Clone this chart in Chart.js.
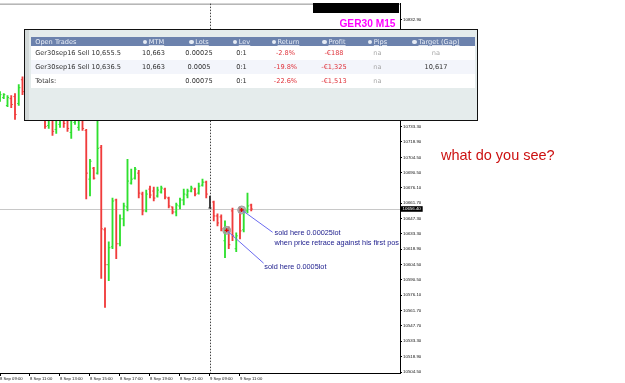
<!DOCTYPE html>
<html>
<head>
<meta charset="utf-8">
<script src="https://cdn.jsdelivr.net/npm/chart.js@4.4.1/dist/chart.umd.min.js"></script>
<style>
  body { margin: 0; background: #fff; overflow: hidden; }
  #wrap { position: relative; width: 625px; height: 383px; }
  #chart { position: absolute; left: 0; top: 0; }
  #blackbox { position: absolute; left: 312.7px; top: 2.7px; width: 86.3px; height: 10px; background: #000; }
  #symbol { position: absolute; right: 229.5px; top: 19.4px; font: bold 10.2px/10.2px "Liberation Sans", Arial, sans-serif; color: #ff00ff; }
  #question { position: absolute; left: 441px; top: 148.3px; font: 14.5px/14.5px "Liberation Sans", Arial, sans-serif; color: #cc1111; white-space: nowrap; }
  #panel { position: absolute; left: 23.5px; top: 29px; width: 452px; height: 90px; border: 1.5px solid #111; background: #e5ecec; }
  #strip { position: absolute; left: 0; top: 0; width: 4px; height: 90px; background: #d3d9d9; }
  #trades { position: absolute; left: 6.7px; top: 7.2px; border-collapse: collapse; table-layout: fixed; width: 444.3px;
            font: 6.6px "DejaVu Sans", Verdana, sans-serif; color: #333; }
  #trades td { padding: 0; height: 14px; text-align: center; white-space: nowrap; overflow: hidden; background: #fff; }
  #trades tr.alt td { background: #f3f5fb; }
  #trades tr.head td { height: 9px; background: #6c82ad; color: #e9eef7; }
  #trades td.name { text-align: left; padding-left: 4px; }
  #trades u { text-decoration-color: rgba(255,255,255,.7); }
  #trades i { display: inline-block; width: 4.5px; height: 4.5px; border-radius: 50%; background: #e6ebf4; margin-right: 1.5px; vertical-align: -0.5px; }
  .neg { color: #e0343c; }
  .na { color: #a8a8a8; }
</style>
</head>
<body>
<div id="wrap">
  <canvas id="chart" width="625" height="383"></canvas>
  <div id="blackbox"></div>
  <div id="symbol">GER30 M15</div>
  <div id="question">what do you see?</div>
  <div id="panel">
    <div id="strip"></div>
    <table id="trades">
      <colgroup>
        <col style="width:99.3px"><col style="width:46px"><col style="width:45px"><col style="width:40px">
        <col style="width:48px"><col style="width:49px"><col style="width:38px"><col style="width:79px">
      </colgroup>
      <tbody id="rows"></tbody>
    </table>
  </div>
</div>
<script>
//GER30 M15 bars, 8 Sep 09:00 onwards (one entry per 15 min bar)
var opens = [10758.3, 10760.2, 10752.8, 10759.2, 10761.1, 10754.6, 10776.8, 10763.9, 10772.2, 10755.5,
             10767.6, 10754.6, 10747.2, 10734.2, 10750.9, 10730.5, 10735.2, 10753.7, 10750.9, 10727.7,
             10737.0, 10732.4, 10749.0, 10729.6, 10684.2, 10694.4, 10689.8, 10713.8, 10637.0, 10604.5,
             10621.2, 10664.8, 10624.0, 10647.2, 10658.3, 10680.5, 10685.1, 10689.8, 10670.3, 10654.6,
             10674.9, 10673.1, 10668.5, 10672.2, 10674.9, 10666.6, 10658.3, 10653.6, 10659.2, 10664.8,
             10669.4, 10673.1, 10674.9, 10671.2, 10678.6, 10681.4, 10657.3, 10662.9, 10649.9, 10649.0,
             10626.8, 10637.9, 10654.6, 10619.4, 10656.4, 10637.0, 10654.6, 10660.1];
var highs = [10765.7, 10763.9, 10762.0, 10762.0, 10763.9, 10772.2, 10779.6, 10776.8, 10775.0, 10770.4,
             10769.4, 10756.5, 10749.0, 10751.8, 10752.8, 10756.5, 10758.3, 10756.5, 10752.8, 10761.1,
             10758.3, 10756.5, 10751.8, 10730.5, 10702.7, 10695.3, 10739.8, 10715.7, 10638.8, 10625.8,
             10666.6, 10665.7, 10650.9, 10662.0, 10702.7, 10693.5, 10695.3, 10692.5, 10672.2, 10674.0,
             10677.7, 10676.8, 10676.8, 10677.7, 10675.9, 10667.5, 10658.3, 10662.0, 10666.6, 10674.9,
             10674.9, 10677.7, 10675.9, 10680.5, 10684.2, 10682.4, 10668.5, 10663.8, 10651.8, 10650.9,
             10645.3, 10639.7, 10657.3, 10634.2, 10658.3, 10656.4, 10671.2, 10661.0];
var lows = [10756.5, 10759.2, 10751.8, 10750.9, 10739.8, 10752.8, 10762.9, 10761.1, 10756.5, 10751.8,
            10747.2, 10739.8, 10731.4, 10731.4, 10725.0, 10726.8, 10732.4, 10732.4, 10728.7, 10722.2,
            10735.2, 10729.6, 10729.6, 10665.7, 10668.5, 10684.2, 10688.8, 10591.6, 10564.7, 10589.7,
            10619.4, 10610.1, 10622.1, 10640.7, 10654.6, 10679.6, 10684.2, 10666.6, 10650.9, 10653.6,
            10666.6, 10663.8, 10667.5, 10671.2, 10665.7, 10657.3, 10651.8, 10649.9, 10656.4, 10660.1,
            10666.6, 10672.2, 10668.5, 10670.3, 10677.7, 10666.6, 10657.3, 10645.3, 10640.7, 10636.0,
            10611.0, 10619.4, 10626.8, 10616.6, 10628.6, 10635.1, 10652.7, 10654.6];
var closes = [10762.9, 10762.9, 10760.2, 10753.7, 10744.4, 10769.4, 10765.7, 10773.1, 10760.2, 10767.6,
              10750.9, 10745.3, 10733.3, 10747.2, 10728.7, 10753.7, 10755.5, 10736.1, 10731.4, 10754.6,
              10752.8, 10751.8, 10731.4, 10689.8, 10700.9, 10685.1, 10712.9, 10637.9, 10604.5, 10620.3,
              10663.8, 10624.0, 10647.2, 10659.2, 10682.4, 10684.2, 10693.5, 10671.2, 10654.6, 10670.3,
              10669.4, 10666.6, 10674.0, 10675.9, 10667.5, 10659.2, 10653.6, 10660.1, 10664.8, 10670.3,
              10673.1, 10675.9, 10670.3, 10677.7, 10681.4, 10670.3, 10657.3, 10649.9, 10643.4, 10637.9,
              10639.7, 10623.1, 10631.4, 10631.4, 10636.0, 10653.6, 10659.2, 10656.4];

//axis ticks
var timeIdx = [0, 8, 16, 24, 32, 40, 48, 56, 64];
var timeLabels = ['8 Sep 09:00', '8 Sep 11:00', '8 Sep 13:00', '8 Sep 15:00', '8 Sep 17:00',
                  '8 Sep 19:00', '8 Sep 21:00', '9 Sep 09:00', '9 Sep 11:00'];
var priceTicks = [10832.9, 10733.3, 10718.9, 10704.5, 10690.5, 10676.1, 10661.7, 10647.3, 10633.3,
                  10618.9, 10604.5, 10590.5, 10576.1, 10561.7, 10547.7, 10533.3, 10518.9, 10504.5];
var bidPrice = 10656.4;
var separatorIdx = 56;

//open trades
var tradeName = ['Ger30sep16 Sell 10,655.5', 'Ger30sep16 Sell 10,636.5'];
var tradeMtm = ['10,663', '10,663'];
var tradeLots = ['0.00025', '0.0005'];
var tradeLev = ['0:1', '0:1'];
var tradeReturn = ['-2.8%', '-19.8%'];
var tradeProfit = ['-€188', '-€1,325'];
var tradePips = ['na', 'na'];
var tradeTarget = ['na', '10,617'];
var totals = ['Totals:', '', '0.00075', '0:1', '-22.6%', '-€1,513', 'na', ''];
var headers = ['Open Trades', 'MTM', 'Lots', 'Lev', 'Return', 'Profit', 'Pips', 'Target (Gap)'];

//trade marks on the chart and their notes
var tradePrice = [10655.5, 10636.5];
var tradeIdx = [64.45, 60.45];
var lineEndIdx = [72.7, 70.3];
var lineEndPrice = [10634.7, 10605.9];
var noteIdx = [73.2, 70.5];
var notePrice = [10633.7, 10602.7];
var noteText = [['sold here 0.00025lot', 'when price retrace against his first pos'], ['sold here 0.0005lot']];

//table
var rows = document.getElementById('rows');
var html = '<tr class="head"><td class="name">' + headers[0] + '</td>';
for (var h = 1; h < headers.length; h++) html += '<td><i></i><u>' + headers[h] + '</u></td>';
html += '</tr>';
for (var t = 0; t < tradeName.length; t++) {
    html += '<tr' + (t % 2 ? ' class="alt"' : '') + '><td class="name">' + tradeName[t] + '</td><td>' + tradeMtm[t] +
        '</td><td>' + tradeLots[t] + '</td><td>' + tradeLev[t] + '</td><td class="neg">' + tradeReturn[t] +
        '</td><td class="neg">' + tradeProfit[t] + '</td><td class="na">' + tradePips[t] + '</td><td' +
        (tradeTarget[t] == 'na' ? ' class="na"' : '') + '>' + tradeTarget[t] + '</td></tr>';
}
html += '<tr><td class="name">' + totals[0] + '</td><td>' + totals[1] + '</td><td>' + totals[2] + '</td><td>' + totals[3] +
    '</td><td class="neg">' + totals[4] + '</td><td class="neg">' + totals[5] + '</td><td class="na">' + totals[6] +
    '</td><td>' + totals[7] + '</td></tr>';
rows.innerHTML = html;

//chart
var up = '#2fe02f', down = '#f03c3c', flat = '#333333';
var barColors = closes.map(function (c, i) { return c > opens[i] ? up : (c < opens[i] ? down : flat); });
var ranges = closes.map(function (c, i) { return { x: i, y: [lows[i], highs[i]] }; });
var openPts = opens.map(function (o, i) { return { x: i, y: o }; });
var closePts = closes.map(function (c, i) { return { x: i, y: c }; });
var tradePts = tradePrice.map(function (p, i) { return { x: tradeIdx[i], y: p }; });

var overlay = {
    id: 'overlay',
    beforeDatasetsDraw: function (chart) {
        var ctx = chart.ctx, a = chart.chartArea, x = chart.scales.x, y = chart.scales.y;
        ctx.save();
        ctx.lineWidth = 1;
        ctx.strokeStyle = '#8c8c8c';
        ctx.beginPath(); ctx.moveTo(a.left, a.top + 0.5); ctx.lineTo(a.right, a.top + 0.5); ctx.stroke();
        var by = Math.round(y.getPixelForValue(bidPrice)) + 0.5;
        ctx.strokeStyle = '#c8c8c8';
        ctx.beginPath(); ctx.moveTo(a.left, by); ctx.lineTo(a.right, by); ctx.stroke();
        var sx = Math.round(x.getPixelForValue(separatorIdx)) + 0.5;
        ctx.strokeStyle = '#444';
        ctx.setLineDash([1.5, 1.5]);
        ctx.beginPath(); ctx.moveTo(sx, a.top); ctx.lineTo(sx, a.bottom); ctx.stroke();
        ctx.restore();
    },
    afterDraw: function (chart) {
        var ctx = chart.ctx, a = chart.chartArea, x = chart.scales.x, y = chart.scales.y;
        ctx.save();
        ctx.font = '7.3px "Liberation Sans", Arial, sans-serif';
        ctx.fillStyle = '#20208e';
        ctx.textBaseline = 'middle';
        noteText.forEach(function (lines, k) {
            var px = x.getPixelForValue(noteIdx[k]), py = y.getPixelForValue(notePrice[k]);
            lines.forEach(function (s, j) { ctx.fillText(s, px, py + j * 9.2); });
        });
        //bid tag on the price scale
        var by = y.getPixelForValue(bidPrice);
        ctx.fillStyle = '#000';
        ctx.fillRect(a.right + 0.7, by - 2.8, 22, 5.6);
        ctx.fillStyle = '#fff';
        ctx.font = '4.4px "Liberation Sans", Arial, sans-serif';
        ctx.fillText(bidPrice.toFixed(2), a.right + 2.5, by + 0.2);
        ctx.restore();
    }
};

Chart.defaults.font.family = '"Liberation Sans", Arial, sans-serif';

var datasets = [
    {
        type: 'bar', data: ranges, backgroundColor: barColors, borderWidth: 0,
        barThickness: 1.2, order: 6
    },
    {
        type: 'scatter', data: openPts, pointStyle: 'dash', pointRotation: 180, pointRadius: 1.6,
        pointBorderColor: barColors, pointBorderWidth: 1, order: 5
    },
    {
        type: 'scatter', data: closePts, pointStyle: 'dash', pointRotation: 0, pointRadius: 1.6,
        pointBorderColor: barColors, pointBorderWidth: 1, order: 4
    },
    {
        type: 'scatter', data: tradePts, pointStyle: 'circle', pointRadius: 4,
        pointBackgroundColor: 'rgba(160,160,160,0.75)', pointBorderColor: '#a0a0a0', pointBorderWidth: 1, order: 3
    }
];
tradePrice.forEach(function (p, i) {
    datasets.push({
        type: 'line', data: [{ x: tradeIdx[i], y: p }, { x: lineEndIdx[i], y: lineEndPrice[i] }],
        borderColor: '#6a6af0', borderWidth: 1, pointRadius: 0, order: 2
    });
});
datasets.push({
    type: 'scatter', data: tradePts, pointStyle: 'cross', pointRadius: 2,
    pointBorderColor: '#e00000', pointBorderWidth: 1.3, order: 1
});

var myChart = new Chart(document.getElementById('chart'), {
    type: 'bar',
    data: { datasets: datasets },
    options: {
        responsive: false,
        animation: false,
        events: [],
        layout: { autoPadding: false, padding: { top: 1.5, left: 0, right: 0, bottom: 0 } },
        plugins: { legend: { display: false }, tooltip: { enabled: false } },
        scales: {
            x: {
                type: 'linear', position: 'bottom', min: 0, max: 106.67, offset: false,
                afterFit: function (s) { s.height = 10; },
                afterBuildTicks: function (s) { s.ticks = timeIdx.map(function (v) { return { value: v }; }); },
                ticks: {
                    autoSkip: false, maxRotation: 0, align: 'start', padding: 0,
                    font: { size: 4.2 }, color: '#111',
                    callback: function (v, i) { return timeLabels[i]; }
                },
                grid: { drawOnChartArea: false, offset: false, tickLength: 3, color: '#000' },
                border: { display: true, color: '#000', width: 1 }
            },
            y: {
                position: 'right', min: 10503.6, max: 10847.7,
                afterFit: function (s) { s.width = 225; },
                afterBuildTicks: function (s) { s.ticks = priceTicks.map(function (v) { return { value: v }; }); },
                ticks: {
                    autoSkip: false, padding: 1, font: { size: 4.4 }, color: '#111',
                    callback: function (v) { return v.toFixed(2); }
                },
                grid: { drawOnChartArea: false, tickLength: 2, color: '#000' },
                border: { display: true, color: '#000', width: 1 }
            }
        }
    },
    plugins: [overlay]
});
</script>
</body>
</html>
